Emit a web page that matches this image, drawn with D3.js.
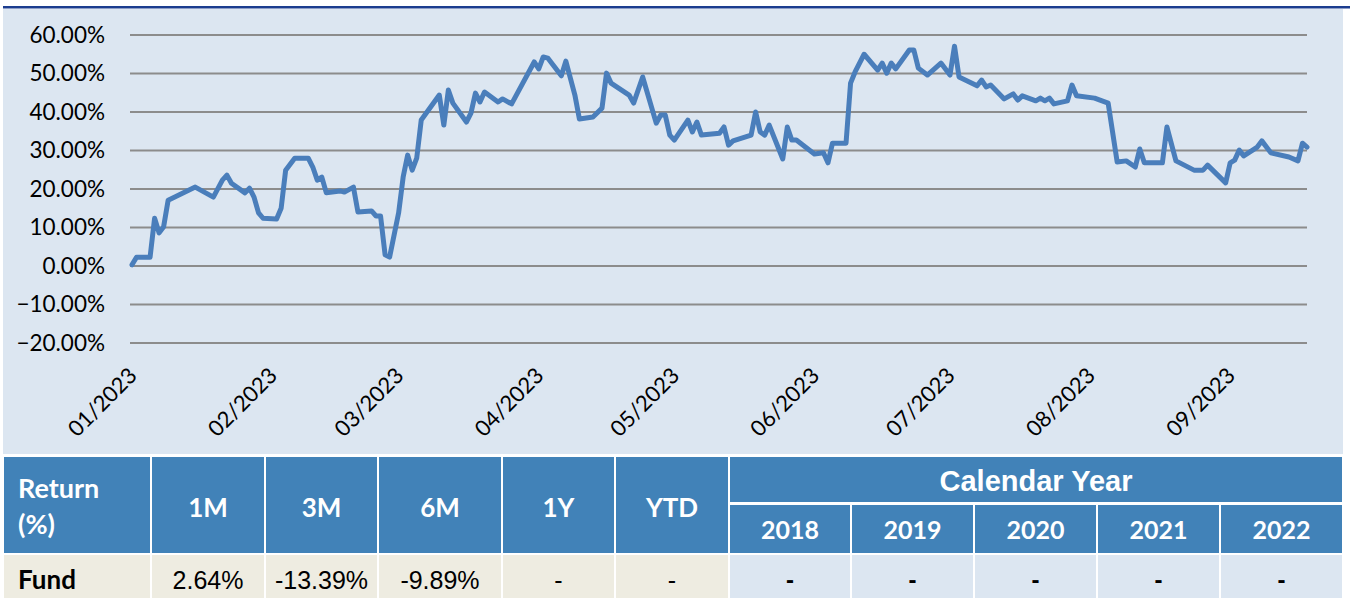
<!DOCTYPE html>
<html lang="en">
  <head>
    <meta charset="UTF-8" />
    <title>fund return</title>
    <style>
      body { margin: 0; background: #fff; }
      .axis text { font-family: Lato, 'Open Sans', sans-serif; }
    </style>
  </head>
  <body>
    <svg id="svg" width="1350" height="598"></svg>
    <script src="https://cdn.jsdelivr.net/npm/d3@7"></script>
    <script>
      // cumulative return series (%)
      const dates = [
        '01-01','01-02','01-05','01-06','01-07','01-08','01-09','01-15','01-19','01-21','01-22','01-23','01-26','01-27','01-28','01-29','01-30',
        '02-02','02-03','02-04','02-06','02-09','02-10','02-11','02-12','02-13','02-16','02-17','02-19','02-20','02-23','02-24','02-25','02-26','02-27',
        '03-01','03-02','03-03','03-04','03-05','03-06','03-10','03-11','03-12','03-13','03-16','03-17','03-18','03-19','03-20','03-23','03-24','03-26','03-31',
        '04-01','04-02','04-03','04-06','04-07','04-09','04-10','04-13','04-15','04-16','04-17','04-21','04-22','04-24','04-27','04-28','04-29','04-30',
        '05-01','05-04','05-05','05-06','05-07','05-11','05-12','05-13','05-14','05-18','05-19','05-20','05-21','05-22','05-25','05-26','05-27','05-28',
        '06-01','06-03','06-04','06-05','06-08','06-09','06-10','06-12','06-15','06-16','06-17','06-18','06-19','06-22','06-23','06-24','06-26','06-29',
        '07-01','07-02','07-03','07-07','07-08','07-09','07-10','07-13','07-15','07-16','07-17','07-20','07-21','07-22','07-23','07-24','07-27','07-28','07-29',
        '08-02','08-05','08-07','08-09','08-11','08-12','08-13','08-17','08-18','08-20','08-24','08-26','08-27','08-31',
        '09-01','09-02','09-03','09-04','09-07','09-08','09-10','09-14','09-16','09-17','09-18'
      ]
      const returns = [
        0.3, 2.3, 2.3, 12.4, 8.6, 10.2, 17.1, 20.5, 17.9, 22.3, 23.6, 21.5, 19.0, 20.2, 17.9, 13.8, 12.4,
        12.2, 15.0, 24.9, 28.0, 28.0, 25.7, 22.3, 23.1, 19.0, 19.5, 19.2, 20.5, 14.0, 14.3, 13.0, 13.0, 2.9, 2.3,
        13.8, 23.1, 28.8, 24.9, 28.0, 37.9, 44.4, 36.6, 45.7, 42.3, 37.4, 39.7, 44.9, 42.6, 45.2, 42.6, 43.4, 42.1, 53.0,
        51.2, 54.3, 54.0, 49.4, 53.2, 44.4, 38.2, 38.7, 41.0, 50.1, 47.5, 44.4, 42.3, 49.1, 37.1, 39.2, 39.2, 34.0,
        32.7, 37.9, 34.8, 37.4, 34.0, 34.5, 36.1, 31.4, 32.5, 34.0, 40.0, 34.8, 34.0, 36.6, 27.8, 36.1, 32.7, 32.7,
        29.1, 29.4, 26.8, 31.9, 31.9, 47.5, 50.4, 55.0, 50.9, 52.7, 50.1, 52.7, 51.2, 56.1, 56.1, 51.4, 49.6, 52.7,
        49.6, 57.1, 49.1, 46.8, 48.3, 46.5, 47.0, 43.4, 44.7, 43.1, 44.2, 42.9, 43.6, 42.9, 43.6, 42.1, 42.9, 47.0, 44.2,
        43.6, 42.3, 27.0, 27.3, 25.7, 30.4, 26.8, 26.8, 36.1, 27.3, 24.9, 24.9, 26.2, 21.6,
        26.8, 27.5, 30.1, 28.6, 30.9, 32.5, 29.4, 28.3, 27.3, 31.9, 30.9
      ]
      const yTicks = [-20, -10, 0, 10, 20, 30, 40, 50, 60]
      const monthTicks = ['01-01','02-01','03-01','04-01','05-01','06-01','07-01','08-01','09-01']

      // table
      const periods = ['1M', '3M', '6M', '1Y', 'YTD']
      const periodValues = ['2.64%', '-13.39%', '-9.89%', '-', '-']
      const years = ['2018', '2019', '2020', '2021', '2022']
      const yearValues = ['-', '-', '-', '-', '-']

      const svg = d3.select('#svg')
      const parse = d3.timeParse('%Y-%m-%d')
      const toDate = (s) => parse('2023-' + s)

      // top rule + chart panel
      svg.append('rect').attr('x', 3).attr('y', 9).attr('width', 1340).attr('height', 445).attr('fill', '#dce6f1')
      svg.append('rect').attr('x', 3).attr('y', 6).attr('width', 1347).attr('height', 2.5).attr('fill', '#1c3d8f')

      const x = d3.scaleTime().domain([toDate('01-01'), toDate('09-18')]).range([132, 1307])
      const y = d3.scaleLinear().domain([-20, 60]).range([343, 35])

      // gridlines
      svg.append('g')
        .selectAll('line')
        .data(yTicks)
        .enter()
        .append('line')
        .attr('x1', 130)
        .attr('x2', 1307)
        .attr('y1', (d) => y(d))
        .attr('y2', (d) => y(d))
        .attr('stroke', '#8c8c8c')
        .attr('stroke-width', 2)

      // y axis labels
      const yAxis = d3.axisLeft(y).tickValues(yTicks).tickSize(0).tickPadding(0)
        .tickFormat((d) => d3.format('.2f')(d) + '%')
      const gy = svg.append('g').attr('class', 'axis').attr('transform', 'translate(105,0)').call(yAxis)
      gy.select('.domain').remove()
      gy.selectAll('text').attr('font-size', 22.5).attr('fill', '#000')

      // x axis labels, rotated
      const xAxis = d3.axisBottom(x).tickValues(monthTicks.map(toDate)).tickSize(0).tickPadding(0)
        .tickFormat(d3.timeFormat('%m/%Y'))
      const gx = svg.append('g').attr('class', 'axis').attr('transform', 'translate(0,366)').call(xAxis)
      gx.select('.domain').remove()
      gx.selectAll('text')
        .attr('font-size', 22)
        .attr('fill', '#000')
        .attr('text-anchor', 'end')
        .attr('dy', '0.7em')
        .attr('transform', 'translate(-5,0) rotate(-45)')

      // line
      const line = d3.line().x((d, i) => x(toDate(dates[i]))).y((d) => y(d))
      svg.append('path')
        .datum(returns)
        .attr('d', line)
        .attr('fill', 'none')
        .attr('stroke', '#4a7ebb')
        .attr('stroke-width', 5)
        .attr('stroke-linejoin', 'round')
        .attr('stroke-linecap', 'round')

      // ---- table ----
      const edges = [3, 151, 265, 378, 502, 615, 729, 851, 974, 1097, 1220, 1343]
      const headBlue = '#4182b8'
      const lato = "Lato, 'Open Sans', sans-serif"
      const arial = "'Liberation Sans', Arial, sans-serif"
      const t = svg.append('g')

      function cell(x0, x1, y0, y1, fill) {
        t.append('rect').attr('x', x0 + 1).attr('y', y0).attr('width', x1 - x0 - 2).attr('height', y1 - y0).attr('fill', fill)
      }
      function label(txt, cx, cy, opts) {
        t.append('text')
          .attr('x', cx)
          .attr('y', cy)
          .attr('dy', '0.35em')
          .attr('text-anchor', opts.anchor || 'middle')
          .attr('font-family', opts.family || lato)
          .attr('font-weight', opts.weight || 'bold')
          .attr('font-size', opts.size || 25)
          .attr('fill', opts.fill || '#fff')
          .text(txt)
      }

      // header
      cell(edges[0], edges[1], 457, 553, headBlue)
      label('Return', 18, 489, { anchor: 'start', size: 27 })
      label('(%)', 18, 525, { anchor: 'start', size: 27 })
      periods.forEach((p, i) => {
        cell(edges[i + 1], edges[i + 2], 457, 553, headBlue)
        label(p, (edges[i + 1] + edges[i + 2]) / 2, 508, { size: 26 })
      })
      cell(edges[6], edges[11], 457, 502, headBlue)
      label('Calendar Year', (edges[6] + edges[11]) / 2, 481, { family: arial, size: 29 })
      years.forEach((yr, i) => {
        cell(edges[i + 6], edges[i + 7], 505, 553, headBlue)
        label(yr, (edges[i + 6] + edges[i + 7]) / 2, 530, {})
      })

      // data row
      cell(edges[0], edges[1], 555, 610, '#eeece1')
      label('Fund', 18, 580, { anchor: 'start', size: 26, fill: '#000' })
      periodValues.forEach((v, i) => {
        cell(edges[i + 1], edges[i + 2], 555, 610, '#eeece1')
        label(v, (edges[i + 1] + edges[i + 2]) / 2, 580, { family: arial, weight: 'normal', size: 25, fill: '#000' })
      })
      yearValues.forEach((v, i) => {
        cell(edges[i + 6], edges[i + 7], 555, 610, '#dce6f1')
        label(v, (edges[i + 6] + edges[i + 7]) / 2, 580, { family: arial, size: 24, fill: '#000' })
      })
    </script>
  </body>
</html>
